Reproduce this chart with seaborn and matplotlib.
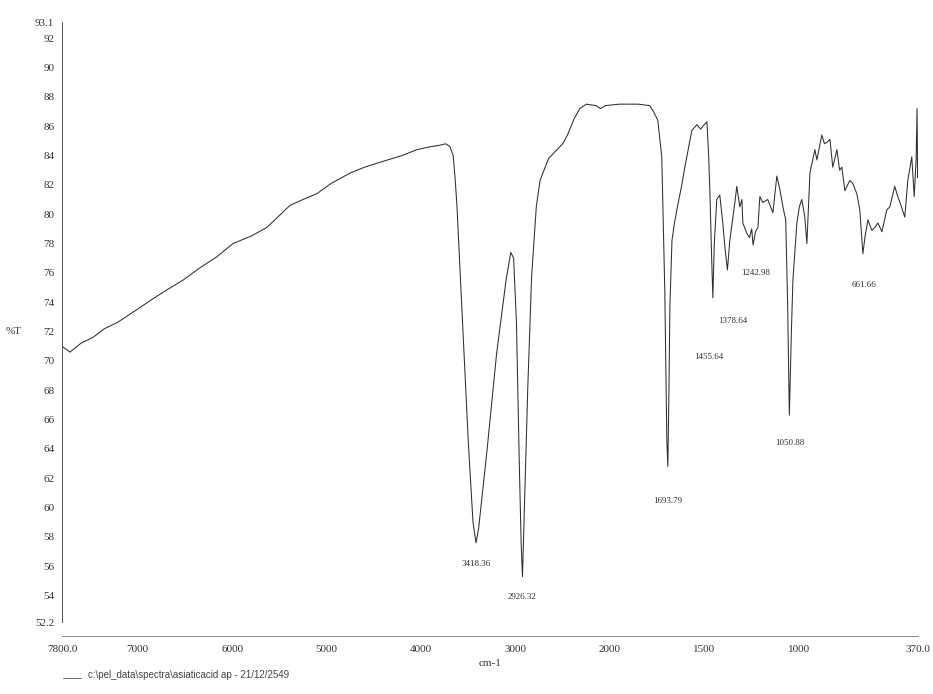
import numpy as np
import pandas as pd
import matplotlib
matplotlib.use("Agg")
import matplotlib.pyplot as plt
import seaborn as sns

# ---- data ----
wavenumber = [7800, 7715, 7600, 7472, 7350, 7218, 7100, 7006, 6869, 6700, 6520, 6350, 6160, 5990, 5800,
              5631, 5500, 5387, 5250, 5102, 4950, 4752, 4600, 4403, 4200, 4043, 3900, 3800, 3740, 3694,
              3660, 3640, 3620, 3560, 3500, 3450, 3418.36, 3390, 3300, 3200, 3100, 3050, 3020, 2990, 2960,
              2940, 2926.32, 2910, 2895, 2870, 2855, 2830, 2780, 2740, 2650, 2500, 2450, 2380, 2320, 2250,
              2150, 2100, 2050, 1950, 1850, 1790, 1770, 1747, 1726, 1710, 1699, 1693.79, 1688, 1683, 1672,
              1660, 1646, 1620, 1604, 1567, 1540, 1520, 1508, 1487, 1478, 1471, 1462, 1455.64, 1448, 1435,
              1419, 1403, 1390, 1378.64, 1366, 1339, 1329, 1313, 1302, 1297, 1276, 1262, 1250, 1242.98,
              1230, 1217, 1207, 1191, 1165, 1138, 1117, 1101, 1085, 1070, 1060, 1050.88, 1040, 1032, 1011,
              998, 985, 969, 958, 942, 916, 905, 879, 865, 852, 836, 821, 799, 785, 773, 757, 731, 715, 694,
              678, 670, 661.66, 650, 635, 614, 598, 582, 561, 535, 519, 493, 477, 460, 440, 424, 403, 390,
              380, 375, 372, 370]
transmittance = [71.0, 70.6, 71.2, 71.6, 72.2, 72.6, 73.1, 73.5, 74.1, 74.8, 75.5, 76.3, 77.1, 78.0, 78.5,
                 79.1, 79.9, 80.6, 81.0, 81.4, 82.1, 82.8, 83.2, 83.6, 84.0, 84.4, 84.6, 84.7, 84.8, 84.6,
                 84.0, 82.5, 80.6, 72.5, 64.5, 59.0, 57.6, 58.6, 64.0, 70.5, 75.5, 77.4, 77.0, 72.6, 63.0,
                 57.5, 55.3, 59.0, 62.5, 68.2, 71.0, 75.7, 80.5, 82.3, 83.8, 84.8, 85.4, 86.5, 87.2, 87.5,
                 87.4, 87.2, 87.4, 87.5, 87.5, 87.4, 87.0, 86.4, 83.9, 74.8, 64.5, 62.8, 68.0, 73.7, 78.2,
                 79.3, 80.3, 82.0, 83.2, 85.7, 86.1, 85.8, 86.0, 86.3, 84.0, 81.4, 77.0, 74.3, 78.0, 81.0,
                 81.3, 79.4, 77.5, 76.2, 78.2, 80.8, 81.9, 80.5, 81.0, 79.4, 78.7, 78.4, 79.0, 77.9,
                 78.8, 79.1, 81.2, 80.8, 81.0, 80.1, 82.6, 81.7, 80.5, 79.6, 74.0, 66.3, 72.0, 75.5, 79.4,
                 80.5, 81.0, 79.8, 78.0, 82.8, 84.4, 83.7, 85.4, 84.8, 84.9, 85.1, 83.2, 84.4, 83.0, 83.2,
                 81.6, 82.3, 82.1, 81.4, 80.3, 78.8, 77.3, 78.5, 79.6, 78.9, 79.1, 79.4, 78.8, 80.3, 80.5,
                 81.9, 81.2, 80.6, 79.8, 82.3, 83.9, 81.2, 83.7, 87.2, 82.5, 83.0]

peak_positions = [3418.36, 2926.32, 1693.79, 1455.64, 1378.64, 1242.98, 1050.88, 661.66]
peak_values = [57.6, 55.3, 62.8, 74.3, 76.2, 77.9, 66.3, 77.3]
peak_labels = ["3418.36", "2926.32", "1693.79", "1455.64", "1378.64", "1242.98", "1050.88", "661.66"]

x_ticks = [7800, 7000, 6000, 5000, 4000, 3000, 2000, 1500, 1000, 370]
x_tick_labels = ["7800.0", "7000", "6000", "5000", "4000", "3000", "2000", "1500", "1000", "370.0"]
y_ticks = [52.2, 54, 56, 58, 60, 62, 64, 66, 68, 70, 72, 74, 76, 78, 80, 82, 84, 86, 88, 90, 92, 93.1]
y_tick_labels = ["52.2"] + [str(v) for v in y_ticks[1:-1]] + ["93.1"]

footer = "c:\\pel_data\\spectra\\asiaticacid ap - 21/12/2549"

assert len(wavenumber) == len(transmittance)

# ---- plot ----
sns.set_theme(style="white")
plt.rcParams["font.family"] = ["Liberation Serif", "DejaVu Serif"]

fig = plt.figure(figsize=(9.33, 6.94), dpi=100)
ax = fig.add_axes([62 / 933, 1 - 622 / 694, 856 / 933, 600 / 694])

df = pd.DataFrame({"cm-1": wavenumber, "%T": transmittance})
sns.lineplot(data=df, x="cm-1", y="%T", sort=False, estimator=None,
             color="#2e2e2e", linewidth=0.75, ax=ax)


def fwd(x):
    x = np.asarray(x, dtype=float)
    return np.where(x >= 2000, x, 2 * x - 2000)


def inv(u):
    u = np.asarray(u, dtype=float)
    return np.where(u >= 2000, u, (u + 2000) / 2)


ax.set_xscale("function", functions=(fwd, inv))
ax.set_xlim(7800, 370)
ax.set_ylim(52.2, 93.1)

ax.set_xticks(x_ticks)
ax.set_xticklabels(x_tick_labels)
ax.set_yticks(y_ticks)
ax.set_yticklabels(y_tick_labels)
ax.minorticks_off()
ax.tick_params(axis="both", labelsize=8, colors="#333333", length=3, width=0.6)
ax.tick_params(axis="x", direction="inout", pad=5)
ax.tick_params(axis="y", direction="out", pad=2.5)

for side in ["top", "right"]:
    ax.spines[side].set_visible(False)
ax.spines["left"].set_color("#555555")
ax.spines["left"].set_linewidth(0.7)
ax.spines["bottom"].set_color("#8a8a8a")
ax.spines["bottom"].set_linewidth(0.7)
ax.spines["bottom"].set_position(("outward", 10))

ax.set_xlabel("cm-1", fontsize=8, color="#333333", labelpad=4)
ax.set_ylabel("%T", fontsize=8, color="#333333", rotation=0)
ax.yaxis.set_label_coords(-0.056, (72 - 52.2) / (93.1 - 52.2))
ax.yaxis.label.set_va("center")

label_offsets = [21, 20, 35, 59, 51, 28, 28, 31]
label_dx = [0, 0, 0, -4, 5, 3, 0, 1]
for xp, yp, txt, dy, dx in zip(peak_positions, peak_values, peak_labels, label_offsets, label_dx):
    ax.annotate(txt, xy=(xp, yp), xytext=(dx, -dy), textcoords="offset pixels",
                ha="center", va="center", fontsize=6.5, color="#333333")

fig.text(88 / 933, 1 - 675 / 694, footer, fontsize=7, color="#444444",
         family=["Liberation Sans Narrow", "Liberation Sans", "DejaVu Sans"], va="center", ha="left")
fig.add_artist(plt.Line2D([63 / 933, 81 / 933], [1 - 678 / 694, 1 - 678 / 694],
                          color="#555555", linewidth=0.6))

fig.savefig("out.png", dpi=100, facecolor="white")
